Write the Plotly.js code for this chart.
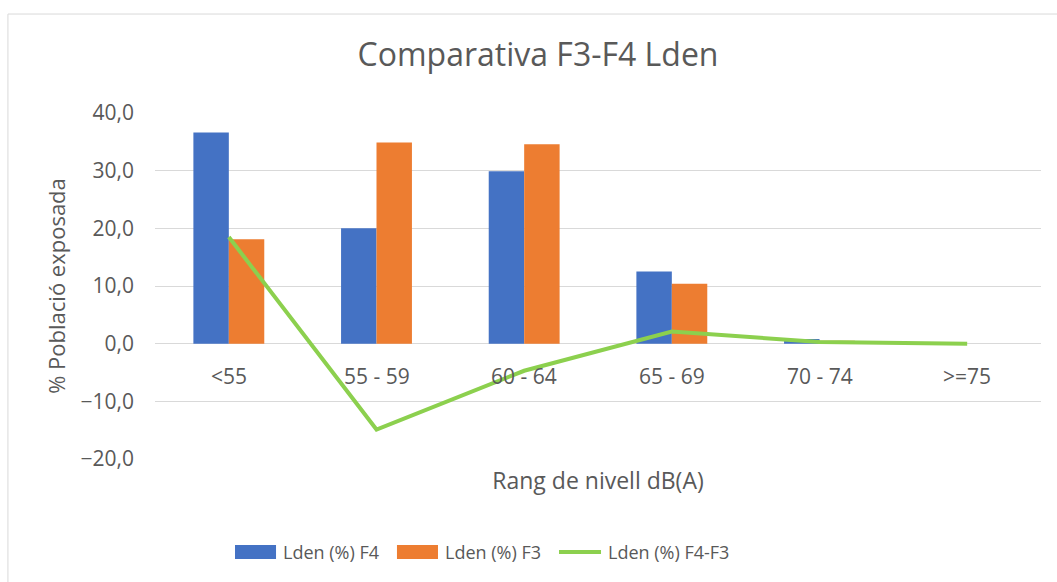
<!DOCTYPE html>
<html>
<head>
<meta charset="utf-8">
<script src="https://cdn.plot.ly/plotly-3.0.1.min.js"></script>
<style>
  html, body { margin: 0; padding: 0; background: #fff; }
  #chart { width: 1057px; height: 582px; }
</style>
</head>
<body>
<div id="chart"></div>
<script>
const categories = ["<55", "55 - 59", "60 - 64", "65 - 69", "70 - 74", ">=75"];
const ldenF4 = [36.6, 20.0, 29.9, 12.5, 0.8, 0.0];
const ldenF3 = [18.1, 34.9, 34.6, 10.4, 0.5, 0.0];
const ldenDiff = [18.5, -14.9, -4.7, 2.1, 0.3, 0.0];
const seriesNames = ["Lden (%) F4", "Lden (%) F3", "Lden (%) F4-F3"];
const seriesColors = ["#4472C4", "#ED7D31", "#8CD04E"];

const FONT = "Open Sans, Noto Sans, sans-serif";
const TXT = "#595959";

const traces = [
  { type: "bar", x: categories, y: ldenF4, name: seriesNames[0],
    marker: { color: seriesColors[0] }, showlegend: false },
  { type: "bar", x: categories, y: ldenF3, name: seriesNames[1],
    marker: { color: seriesColors[1] }, showlegend: false },
  { type: "scatter", mode: "lines", x: categories, y: ldenDiff, name: seriesNames[2],
    line: { color: seriesColors[2], width: 4 }, showlegend: false }
];

const catAnnotations = categories.map(c => ({
  x: c, y: 0, xref: "x", yref: "y", text: c, showarrow: false,
  yanchor: "middle", yshift: -32, font: { family: FONT, size: 21, color: TXT }
}));

// custom legend (paper coordinates)
const legY0 = -0.289, legY1 = -0.2486, legYm = -0.2688;
const legSw = [[0.0903, 0.1366], [0.2731, 0.3194], [0.4560, 0.5034]];
const legTx = [0.1422, 0.3251, 0.5090];
const legendShapes = [
  { type: "rect", xref: "paper", yref: "paper", x0: legSw[0][0], x1: legSw[0][1], y0: legY0, y1: legY1,
    fillcolor: seriesColors[0], line: { width: 0 } },
  { type: "rect", xref: "paper", yref: "paper", x0: legSw[1][0], x1: legSw[1][1], y0: legY0, y1: legY1,
    fillcolor: seriesColors[1], line: { width: 0 } },
  { type: "line", xref: "paper", yref: "paper", x0: legSw[2][0], x1: legSw[2][1], y0: legYm, y1: legYm,
    line: { color: seriesColors[2], width: 4 } }
];
const legendAnn = seriesNames.map((n, i) => ({
  x: legTx[i], y: legYm, xref: "paper", yref: "paper", text: n, showarrow: false,
  xanchor: "left", yanchor: "middle", font: { family: FONT, size: 18, color: TXT }
}));

const layout = {
  width: 1057, height: 582,
  margin: { l: 155, r: 16, t: 113, b: 123 },
  paper_bgcolor: "#ffffff", plot_bgcolor: "#ffffff",
  separators: ",.",
  font: { family: FONT, color: TXT, size: 16 },
  showlegend: false,
  title: { text: "Comparativa F3-F4 Lden", x: 0.509, xref: "container", xanchor: "center",
           y: 0.906, yref: "container", yanchor: "middle",
           font: { family: FONT, size: 32, color: TXT } },
  barmode: "group", bargap: 0.52, bargroupgap: 0,
  xaxis: { showticklabels: false, showgrid: false, zeroline: false, showline: false,
           ticks: "",
           title: { text: "Rang de nivell dB(A)", standoff: 13,
                    font: { family: FONT, size: 23, color: TXT } } },
  yaxis: { range: [-20, 40], dtick: 10, tickformat: ".1f", showgrid: true,
           gridcolor: "#D9D9D9", gridwidth: 1, zeroline: true, zerolinecolor: "#D9D9D9",
           zerolinewidth: 1, showline: false, ticks: "", ticklabelstandoff: 20,
           tickfont: { family: FONT, size: 21, color: TXT },
           title: { text: "% Població exposada", standoff: 8,
                    font: { family: FONT, size: 22, color: TXT } } },
  annotations: catAnnotations.concat(legendAnn),
  shapes: [
    { type: "rect", xref: "paper", yref: "paper", x0: -0.166, x1: 1.05, y0: -0.5, y1: 1.286,
      line: { color: "#D9D9D9", width: 1 }, fillcolor: "rgba(0,0,0,0)", layer: "below" }
  ].concat(legendShapes)
};

Plotly.newPlot("chart", traces, layout, { displayModeBar: false, staticPlot: true });
</script>
</body>
</html>
